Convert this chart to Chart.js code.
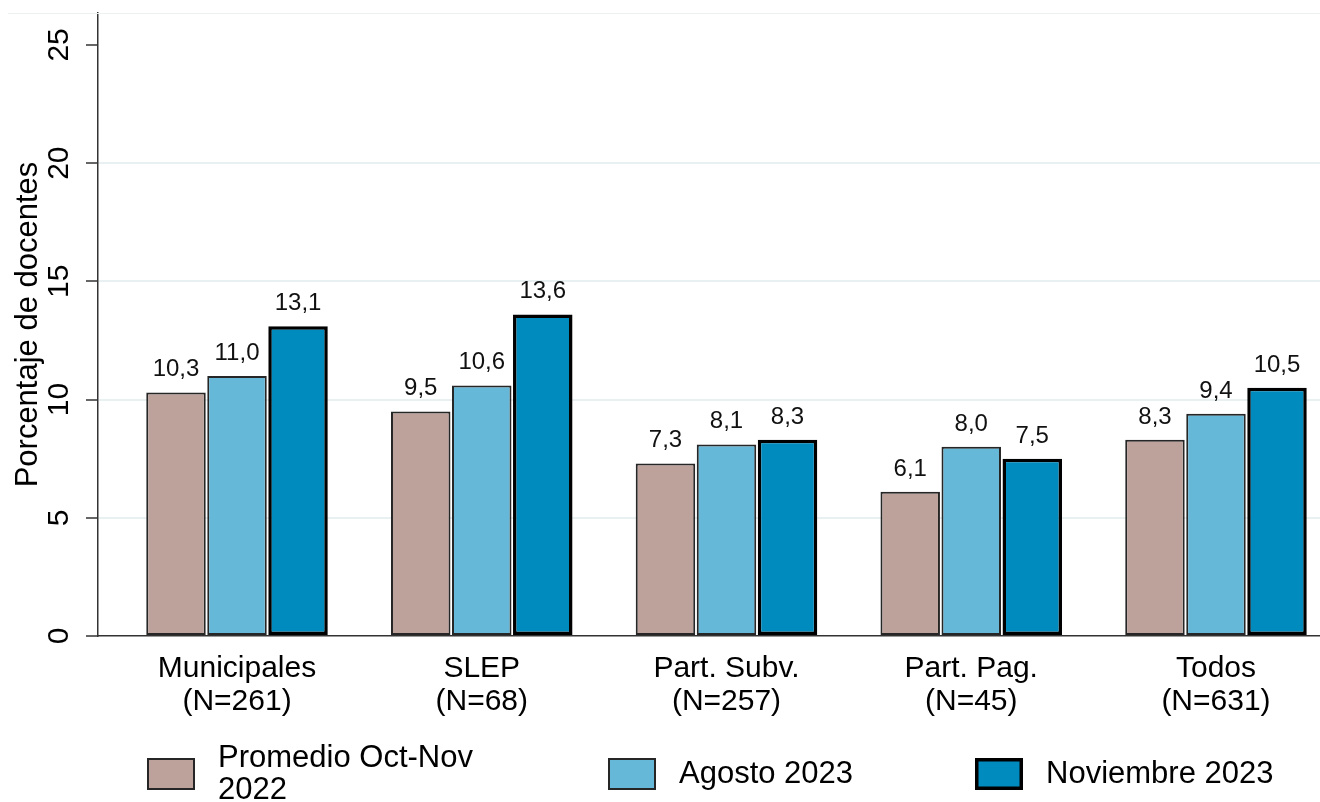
<!DOCTYPE html>
<html>
<head>
    <meta charset="UTF-8">
    <title>Porcentaje de docentes</title>
    <script src="https://cdn.jsdelivr.net/npm/chart.js"></script>
    <style>
        html, body { margin: 0; padding: 0; background: #fff; }
        .chart-container { width: 1320px; height: 802px; position: relative; }
    </style>
</head>
<body>
    <div class="chart-container">
        <canvas id="docentesChart"></canvas>
    </div>
    <script>
        // datos
        const categorias = [
            ['Municipales', '(N=261)'],
            ['SLEP', '(N=68)'],
            ['Part. Subv.', '(N=257)'],
            ['Part. Pag.', '(N=45)'],
            ['Todos', '(N=631)']
        ];
        const promedio2022 = [10.3, 9.5, 7.3, 6.1, 8.3];
        const agosto2023 = [11.0, 10.6, 8.1, 8.0, 9.4];
        const noviembre2023 = [13.1, 13.6, 8.3, 7.5, 10.5];
        const series = [
            ['Promedio Oct-Nov', '2022'],
            ['Agosto 2023'],
            ['Noviembre 2023']
        ];
        const yTicks = [0, 5, 10, 15, 20, 25];

        const FONT = '"Liberation Sans", Arial, sans-serif';
        Chart.defaults.font.family = FONT;
        Chart.defaults.color = '#000';

        function puntos(arr) {
            return arr.map((v, i) => ({ x: i, y: v }));
        }

        // etiquetas de valor sobre las barras
        const etiquetas = {
            id: 'etiquetas',
            afterDatasetsDraw(chart) {
                const ctx = chart.ctx;
                ctx.save();
                ctx.font = '24px ' + FONT;
                ctx.fillStyle = '#111';
                ctx.textAlign = 'center';
                ctx.textBaseline = 'alphabetic';
                chart.data.datasets.forEach((ds, di) => {
                    const meta = chart.getDatasetMeta(di);
                    meta.data.forEach((bar, i) => {
                        const txt = ds.data[i].y.toFixed(1).replace('.', ',');
                        ctx.fillText(txt, bar.x, bar.y - 16);
                    });
                });
                ctx.restore();
            }
        };

        // leyenda abajo, estilo Stata
        const leyenda = {
            id: 'leyenda',
            afterDraw(chart) {
                const ctx = chart.ctx;
                const boxX = [147, 608, 975];
                const cy = 774;
                ctx.save();
                // linea superior tenue
                ctx.strokeStyle = '#eef1f2';
                ctx.lineWidth = 1;
                ctx.beginPath();
                ctx.moveTo(8, chart.chartArea.top + 0.5);
                ctx.lineTo(chart.width, chart.chartArea.top + 0.5);
                ctx.stroke();

                ctx.font = '31px ' + FONT;
                ctx.textBaseline = 'middle';
                ctx.textAlign = 'left';
                chart.data.datasets.forEach((ds, i) => {
                    const x = boxX[i];
                    const bw = ds.borderWidth;
                    ctx.fillStyle = ds.backgroundColor;
                    ctx.fillRect(x, cy - 16, 48, 32);
                    ctx.strokeStyle = ds.borderColor;
                    ctx.lineWidth = bw;
                    ctx.strokeRect(x + bw / 2, cy - 16 + bw / 2, 48 - bw, 32 - bw);
                    ctx.fillStyle = '#000';
                    const lines = ds.label;
                    const lh = 32;
                    const y0 = cy - (lines.length - 1) * lh / 2;
                    lines.forEach((t, k) => ctx.fillText(t, x + 71, y0 + k * lh));
                });
                ctx.restore();
            }
        };

        const ctx = document.getElementById('docentesChart').getContext('2d');
        const docentesChart = new Chart(ctx, {
            type: 'bar',
            data: {
                datasets: [
                    {
                        label: series[0],
                        data: puntos(promedio2022),
                        backgroundColor: '#bca29b',
                        borderColor: '#262626',
                        borderWidth: 2
                    },
                    {
                        label: series[1],
                        data: puntos(agosto2023),
                        backgroundColor: '#66b8d8',
                        borderColor: '#262626',
                        borderWidth: 2
                    },
                    {
                        label: series[2],
                        data: puntos(noviembre2023),
                        backgroundColor: '#008bbe',
                        borderColor: '#000',
                        borderWidth: 3.5
                    }
                ]
            },
            options: {
                responsive: true,
                maintainAspectRatio: false,
                animation: false,
                layout: { padding: { top: 13, right: 0, bottom: 0, left: 0 } },
                datasets: {
                    bar: {
                        categoryPercentage: 0.748,
                        barPercentage: 0.975,
                        borderSkipped: false
                    }
                },
                plugins: {
                    legend: { display: false },
                    tooltip: { enabled: false }
                },
                scales: {
                    x: {
                        type: 'linear',
                        offset: false,
                        min: -0.568,
                        max: 4.425,
                        afterBuildTicks: axis => {
                            axis.ticks = categorias.map((c, i) => ({ value: i }));
                        },
                        afterFit: axis => {
                            axis.height = 166;
                            axis.paddingLeft = 0;
                            axis.paddingRight = 0;
                        },
                        grid: { display: false, drawTicks: false },
                        border: { display: true, color: '#333', width: 1.5 },
                        ticks: {
                            autoSkip: false,
                            maxRotation: 0,
                            padding: 16,
                            font: { size: 30, lineHeight: 1.1 },
                            callback: v => categorias[v]
                        }
                    },
                    y: {
                        min: 0,
                        max: 26.35,
                        afterBuildTicks: axis => {
                            axis.ticks = yTicks.map(v => ({ value: v }));
                        },
                        afterFit: axis => {
                            axis.width = 98;
                            axis.paddingTop = 0;
                            axis.paddingBottom = 0;
                        },
                        grid: {
                            color: c => (c.tick && (c.tick.value === 0 || c.tick.value === 25)) ? 'rgba(0,0,0,0)' : '#e8f0f2',
                            lineWidth: 2,
                            tickColor: '#333',
                            tickWidth: 1.5,
                            tickLength: 12
                        },
                        border: { display: true, color: '#333', width: 1.5 },
                        ticks: {
                            minRotation: 90,
                            maxRotation: 90,
                            crossAlign: 'center',
                            padding: 10,
                            font: { size: 30 }
                        },
                        title: {
                            display: true,
                            text: 'Porcentaje de docentes',
                            font: { size: 31 },
                            padding: { top: 10, bottom: 0 }
                        }
                    }
                }
            },
            plugins: [etiquetas, leyenda]
        });
    </script>
</body>
</html>
